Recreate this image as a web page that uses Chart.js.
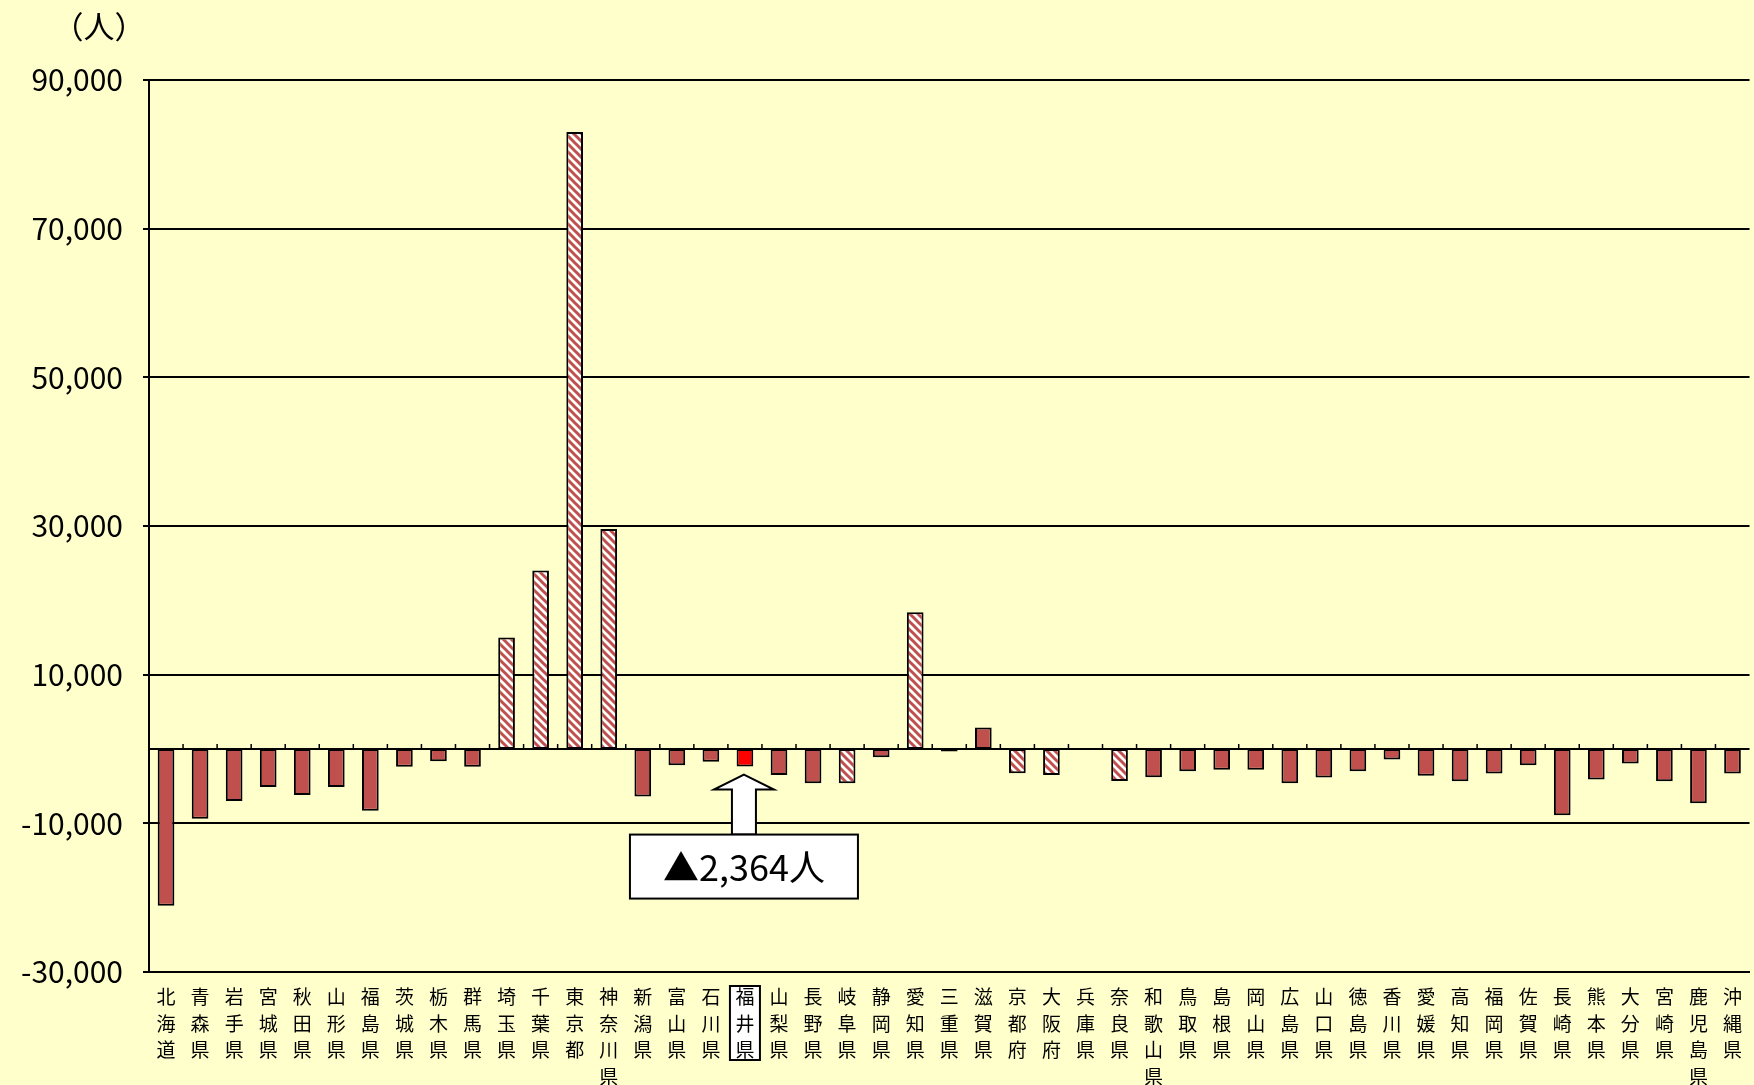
<!DOCTYPE html>
<html lang="ja">
<head>
<meta charset="utf-8">
<title>都道府県別 転入超過数</title>
<script src="https://cdn.jsdelivr.net/npm/chart.js@4.4.1/dist/chart.umd.min.js"></script>
<style>
  html, body { margin: 0; padding: 0; background: #FFFFCC; }
  #wrap { width: 1754px; height: 1085px; position: relative; }
</style>
</head>
<body>
<div id="wrap"><canvas id="chart"></canvas></div>
<script>
const prefectures = ['北海道','青森県','岩手県','宮城県','秋田県','山形県','福島県','茨城県','栃木県','群馬県',
    '埼玉県','千葉県','東京都','神奈川県','新潟県','富山県','石川県','福井県','山梨県','長野県',
    '岐阜県','静岡県','愛知県','三重県','滋賀県','京都府','大阪府','兵庫県','奈良県','和歌山県',
    '鳥取県','島根県','岡山県','広島県','山口県','徳島県','香川県','愛媛県','高知県','福岡県',
    '佐賀県','長崎県','熊本県','大分県','宮崎県','鹿児島県','沖縄県'];
const netMigration = [-21100, -9400, -7000, -5100, -6200, -5100, -8300, -2400, -1650, -2400,
    15000, 24000, 83000, 29600, -6400, -2200, -1700, -2364, -3500, -4600,
    -4600, -1100, 18400, -350, 2900, -3250, -3500, 0, -4300, -3800,
    -3000, -2800, -2800, -4600, -3850, -3000, -1400, -3600, -4350, -3300,
    -2200, -8900, -4100, -1950, -4350, -7300, -3300];
// 三大都市圏（斜線）
const metroPrefs = ['埼玉県','千葉県','東京都','神奈川県','岐阜県','愛知県','三重県','京都府','大阪府','兵庫県','奈良県'];
const highlightPref = '福井県';
const yTicks = [-30000, -10000, 10000, 30000, 50000, 70000, 90000];

const FONT = '"Noto Sans CJK JP", "Noto Sans", sans-serif';
const RED = '#C0504D';

// 斜線パターン
function makeHatch() {
    const c = document.createElement('canvas');
    c.width = 8; c.height = 8;
    const g = c.getContext('2d');
    g.fillStyle = '#FFFFFF';
    g.fillRect(0, 0, 8, 8);
    g.strokeStyle = RED;
    g.lineWidth = 3;
    for (const k of [-8, 0, 8]) {
        g.beginPath();
        g.moveTo(-4, -4 + k);
        g.lineTo(12, 12 + k);
        g.stroke();
    }
    return document.getElementById('chart').getContext('2d').createPattern(c, 'repeat');
}
const hatch = makeHatch();

const decorations = {
    id: 'decorations',
    beforeDraw(chart) {
        const {ctx, scales: {x}} = chart;
        ctx.save();
        ctx.fillStyle = '#FFFFCC';
        ctx.fillRect(0, 0, chart.width, chart.height);
        // 福井県ラベルの枠
        const cx = x.getPixelForValue(prefectures.indexOf(highlightPref));
        ctx.fillStyle = '#FFFFFF';
        ctx.strokeStyle = '#000';
        ctx.lineWidth = 2;
        ctx.fillRect(cx - 15, x.top + 14, 30, 74);
        ctx.strokeRect(cx - 15, x.top + 14, 30, 74);
        ctx.restore();
    },
    beforeDatasetsDraw(chart) {
        const {ctx, chartArea, scales: {x, y}} = chart;
        const y0 = y.getPixelForValue(0);
        ctx.save();
        ctx.strokeStyle = '#000';
        ctx.lineWidth = 2;
        ctx.beginPath();
        ctx.moveTo(chartArea.left, y0);
        ctx.lineTo(chartArea.right, y0);
        ctx.stroke();
        ctx.lineWidth = 1.5;
        ctx.beginPath();
        for (let i = 1; i < prefectures.length; i++) {
            const bx = (x.getPixelForValue(i - 1) + x.getPixelForValue(i)) / 2;
            ctx.moveTo(bx, y0);
            ctx.lineTo(bx, y0 - 5);
        }
        ctx.stroke();
        ctx.restore();
    },
    afterDatasetsDraw(chart) {
        const {ctx, scales: {x, y}} = chart;
        const i = prefectures.indexOf(highlightPref);
        const v = netMigration[i];
        const cx = x.getPixelForValue(i) - 1;
        const tipY = y.getPixelForValue(v) + 8;
        const headH = 15, headW = 30, shaftW = 12;
        const boxTop = tipY + 60, boxH = 64, boxW = 228;
        ctx.save();
        ctx.fillStyle = '#FFFFFF';
        ctx.strokeStyle = '#000';
        ctx.lineWidth = 2;
        ctx.beginPath();
        ctx.moveTo(cx, tipY);
        ctx.lineTo(cx + headW, tipY + headH);
        ctx.lineTo(cx + shaftW, tipY + headH);
        ctx.lineTo(cx + shaftW, boxTop);
        ctx.lineTo(cx - shaftW, boxTop);
        ctx.lineTo(cx - shaftW, tipY + headH);
        ctx.lineTo(cx - headW, tipY + headH);
        ctx.closePath();
        ctx.fill();
        ctx.stroke();
        ctx.fillRect(cx - boxW / 2, boxTop, boxW, boxH);
        ctx.strokeRect(cx - boxW / 2, boxTop, boxW, boxH);
        ctx.fillStyle = '#000';
        ctx.font = '36px ' + FONT;
        ctx.textAlign = 'center';
        ctx.textBaseline = 'middle';
        ctx.fillText('▲' + Math.abs(v).toLocaleString('en-US') + '人', cx, boxTop + boxH / 2 + 1);
        ctx.restore();
    },
    afterDraw(chart) {
        const ctx = chart.ctx;
        ctx.save();
        ctx.fillStyle = '#000';
        ctx.font = '31px ' + FONT;
        ctx.textAlign = 'center';
        ctx.textBaseline = 'middle';
        ctx.fillText('（人）', 99, 26);
        ctx.restore();
    }
};

const ctx = document.querySelector('#chart').getContext('2d');

const myChart = new Chart(ctx, {
    type: 'bar',
    data: {
        labels: prefectures.map(p => p.split('')),
        datasets: [{
            data: netMigration,
            backgroundColor: prefectures.map(p => p === highlightPref ? '#FF0000' : (metroPrefs.includes(p) ? hatch : RED)),
            borderColor: '#000',
            borderWidth: 2,
            borderSkipped: false,
            barPercentage: 0.49,
            categoryPercentage: 1
        }]
    },
    options: {
        responsive: true,
        maintainAspectRatio: false,
        animation: false,
        layout: { padding: { top: 80, right: 0, bottom: 0, left: 0 } },
        plugins: {
            legend: { display: false },
            tooltip: { enabled: false }
        },
        scales: {
            x: {
                grid: { display: false, drawTicks: false },
                border: { display: true, color: '#000', width: 2 },
                ticks: {
                    autoSkip: false,
                    maxRotation: 0,
                    padding: 12,
                    color: '#000',
                    font: { family: FONT, size: 19, lineHeight: 1.395 }
                },
                afterFit(scale) { scale.height = 113; }
            },
            y: {
                min: -30000,
                max: 90000,
                afterBuildTicks(scale) { scale.ticks = yTicks.map(v => ({ value: v })); },
                grid: { color: '#000', lineWidth: 2, drawTicks: true, tickLength: 6 },
                border: { color: '#000', width: 2 },
                ticks: {
                    color: '#000',
                    padding: 20,
                    font: { family: FONT, size: 30 },
                    callback: v => v.toLocaleString('en-US')
                },
                afterFit(scale) { scale.width = 149; }
            }
        }
    },
    plugins: [decorations]
});
</script>
</body>
</html>
